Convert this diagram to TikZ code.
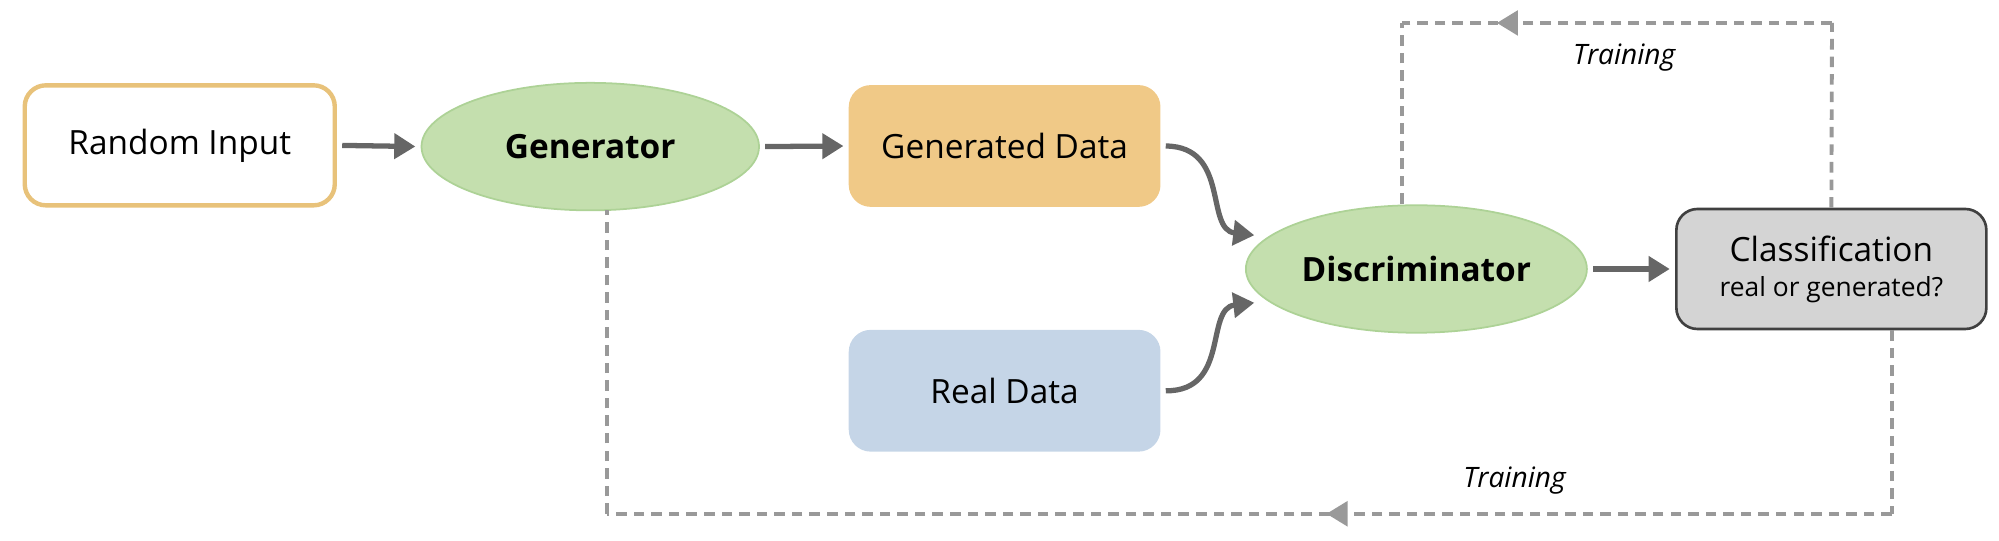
\documentclass[tikz,border=0pt]{standalone}
\usepackage{fontspec}
\setmainfont{Open Sans}
\usetikzlibrary{shapes.geometric,arrows.meta,decorations.markings,calc}
\definecolor{grn}{HTML}{C4DFAE}
\definecolor{grnb}{HTML}{ADD296}
\definecolor{org}{HTML}{F0C987}
\definecolor{orgb}{HTML}{E8C27A}
\definecolor{blu}{HTML}{C5D5E7}
\definecolor{gry}{HTML}{D4D4D4}
\definecolor{ar}{HTML}{666666}
\definecolor{dsh}{HTML}{999999}
\begin{document}
\begin{tikzpicture}[x=0.0255cm,y=-0.0255cm,
 box/.style={draw,rounded corners=12pt,minimum width=6.2cm,minimum height=2.4cm,font=\fontsize{19}{22}\selectfont,line width=1pt},
 ell/.style={ellipse,draw=grnb,fill=grn,line width=1pt,minimum width=6.75cm,minimum height=2.55cm,font=\bfseries\fontsize{19}{22}\selectfont},
 arr/.style={draw=ar,line width=3pt,-{Triangle[length=12pt,width=14pt]},shorten <=3pt,shorten >=3pt},
 dl/.style={draw=dsh,line width=2.2pt,dash pattern=on 6pt off 4pt},
 mid/.style={postaction={decorate},decoration={markings,mark=at position #1 with {\arrow[dsh]{Triangle[length=12pt,width=14pt]}}}},
 lab/.style={font=\itshape\fontsize{16}{19}\selectfont}]
\useasboundingbox (0,0) rectangle (1568,424.3);
\node[box,draw=orgb,fill=white,line width=2.5pt] (ri) at (141,114) {Random Input};
\node[ell] (gen) at (463,115) {Generator};
\node[box,draw=org,fill=org] (gd) at (788,114.5) {Generated Data};
\node[box,draw=blu,fill=blu] (rd) at (788,306.5) {Real Data};
\node[ell] (dis) at (1111,211) {Discriminator};
\node[box,draw=black!75,fill=gry,line width=1.5pt,align=center] (cl) at (1436.5,211) {Classification\\[-2pt]{\fontsize{15}{18}\selectfont real or generated?}};
\draw[arr] (ri.east) -- (gen.west);
\draw[arr] (gen.east) -- (gd.west);
\draw[arr] (dis.east) -- (cl.west);
\coordinate (g2) at (988,185);
\coordinate (r2) at (988,237);
\draw[arr] (gd.east) .. controls (965,115) and (945,180) .. (g2);
\draw[arr] (rd.east) .. controls (965,307) and (945,242) .. (r2);
\coordinate (t0) at (1100,160);
\coordinate (t1) at (1100,18); \coordinate (t2) at (1437,18);
\coordinate (b1) at (1484,403); \coordinate (b2) at (476,403);
\coordinate (b0) at (476,165);
\draw[dl] (t0) -- (t1);
\draw[dl,mid=0.78] (t2) -- (t1);
\draw[dl] (cl.north) -- (t2);
\draw[dl] (b1 |- cl.south) -- (b1);
\draw[dl,mid=0.44] (b1) -- (b2);
\draw[dl] (b2) -- (b0);
\node[lab] (tl1) at (1274,45) {Training};
\node[lab] (tl2) at (1188,377) {Training};
\end{tikzpicture}
\end{document}
